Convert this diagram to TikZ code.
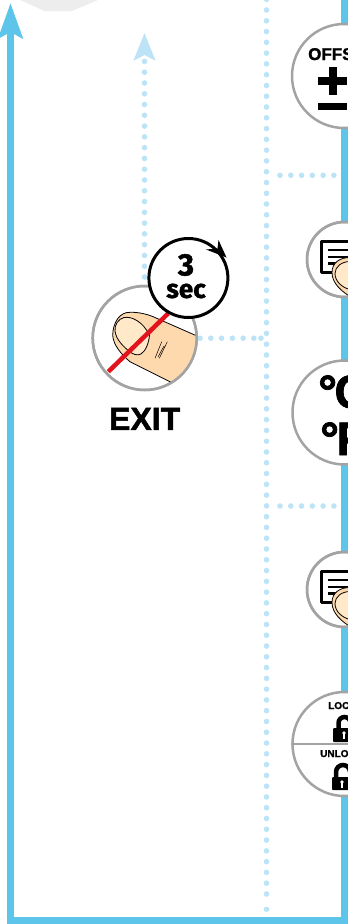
\documentclass[tikz,border=0pt]{standalone}
\usepackage{fontspec}
\setmainfont{Liberation Sans}[BoldFeatures={FakeBold=1.6}]
\newfontfamily\timerfont{Fira Sans}[BoldFeatures={FakeBold=1.6}]
\usetikzlibrary{arrows.meta,positioning}
\definecolor{bar}{HTML}{5EC5EA}
\definecolor{dotblue}{HTML}{BDE3F6}
\definecolor{ringgray}{HTML}{A3A3A3}
\definecolor{skin}{HTML}{FFD9AE}
\definecolor{nailskin}{HTML}{FFE9C9}
\definecolor{crossred}{HTML}{E2131C}
\tikzset{
  frameline/.style={draw=bar,line width=7.5pt,line join=miter},
  dots/.style={draw=dotblue,line width=5.6pt,line cap=round,dash pattern=on 0pt off 10.78pt},
  ring/.style={circle,draw=ringgray,line width=2.5pt,fill=white,inner sep=0pt,minimum size=104pt},
  smallring/.style={ring,minimum size=75pt},
  lab/.style={font=\bfseries\fontsize{#1}{#1}\selectfont,inner sep=0pt,anchor=base west},
  fingerline/.style={draw=black,line width=0.8pt},
}
\begin{document}
\begin{tikzpicture}[x=1pt,y=-1pt]
  \useasboundingbox (0,0) rectangle (348,924);
  \clip (0,0) rectangle (348,924);
  % grey corner at the top
  \fill[gray!14] (20,0) -- (38,8) -- (44,11) -- (72,11) -- (98,0) -- cycle;
  % coordinates of the free ends
  \coordinate (topleft) at (10.5,3);
  \coordinate (botleft) at (10.5,920.5);
  \coordinate (botright) at (344.5,920.5);
  \coordinate (topright) at (344.5,-5);
  \coordinate (vtop) at (266.5,-0.78);
  \coordinate (vbot) at (266.5,894.5);
  \coordinate (vlast) at (266.5,909.3);
  \coordinate (exitup) at (144.5,33);
  \coordinate (exitfoot) at (144.5,277);
  \coordinate (juncA) at (280,175.3);
  \coordinate (endA) at (336,175.3);
  \coordinate (juncB) at (280,506);
  \coordinate (endB) at (336,506);
  \coordinate (exitout) at (200,338.2);
  \coordinate (juncC) at (255,338.2);
  \coordinate (juncD) at (261,338.2);
  % blue frame
  \draw[frameline,{Stealth[length=35pt,width=24pt,inset=6pt]}-] (topleft) -- (botleft) -- (botright) -- (topright);
  % dotted lines
  \draw[dots] (vtop) -- (vbot);
  \fill[dotblue] (vlast) ellipse (3 and 2.6);
  \fill[dotblue] (juncD) circle (2.8);
  \draw[dots,-{Stealth[length=27pt,width=21pt,inset=5pt]}] (exitfoot) -- (exitup);
  \draw[dots] (juncA) -- (endA);
  \draw[dots] (juncB) -- (endB);
  \draw[dots] (exitout) -- (juncC);
  % rings on the right
  \node[ring] (offs) at (344,76) {};
  \node[ring] (temp) at (344.5,412.5) {};
  \node[ring] (lock) at (344.5,744) {};
  % offset
  \node[lab=17] (offstext) at (308,60) {OFFSET};
  \fill (318,77) rectangle (347,85);
  \fill (328.5,67) rectangle (336.5,95);
  \fill (318,103) rectangle (347,110);
  % units
  \node[lab=47] (cel) at (318,408) {°\kern-2.5pt C};
  \node[lab=47] (fah) at (320,455) {°\kern-2.5pt F};
  % lock and unlock
  \draw[ringgray,line width=2.5pt] (lock.west) -- (lock.east);
  \node[lab=10] (locktext) at (328,709) {LOCK};
  \node[lab=10] (unlocktext) at (320,757) {UNLOCK};
  \draw[line width=4.5pt] (338.5,729) -- (338.5,723) arc[start angle=180,end angle=360,radius=6];
  \fill[rounded corners=1pt] (333,728) rectangle (357,742);
  \fill[white] (344,733) circle (1.9);
  \fill[white] (343.1,733) rectangle (344.9,739);
  \draw[line width=4.5pt] (336,777) -- (336,772) arc[start angle=180,end angle=360,radius=7];
  \fill[rounded corners=1pt] (332,777) rectangle (356,790);
  \fill[white] (342,782) circle (1.9);
  \fill[white] (341.1,782) rectangle (342.9,788);
  % the two finger-on-menu buttons
  \foreach \nm/\yy in {docA/259.5,docB/589.5} {
    \node[smallring] (\nm) at (344.5,\yy) {};
    \begin{scope}[shift={(0,\yy)}]
      \draw[line width=3.5pt,line join=round] (360,-18) -- (321.5,-18) -- (321.5,13) -- (360,13);
      \draw[line width=2.8pt] (328,-9.5) -- (350,-9.5) (328,-2.5) -- (350,-2.5) (328,4) -- (350,4);
      \filldraw[fingerline,fill=skin] (350,37) .. controls (342,32) and (332,24) .. (332,13)
        .. controls (332,3) and (340,-2) .. (350,-2) -- cycle;
      \filldraw[fingerline,fill=nailskin] (350,2) .. controls (342,2) and (335,7) .. (335,14)
        .. controls (335,22) and (342,28) .. (350,30) -- cycle;
    \end{scope}
    \draw[ringgray,line width=2.5pt] (\nm) circle (37.5);
  }
  % exit button
  \node[ring] (exit) at (144.7,338) {};
  \begin{scope}
    \clip (exit) circle (51);
    \filldraw[fingerline,fill=skin] (197,336) -- (156.7,318.3)
      .. controls (148,314) and (138,312) .. (130,312.3)
      .. controls (120,312) and (113,322) .. (112.7,335)
      .. controls (113,345) and (122,355) .. (130,361.7) -- (170,381.7) -- (200,395) -- cycle;
  \end{scope}
  \filldraw[fingerline,fill=nailskin] (124,317.5) .. controls (132,316) and (143,322) .. (149.5,335)
    .. controls (149,342) and (146,351) .. (141,354) .. controls (137,356) and (133,354) .. (130,352)
    .. controls (124,347) and (116,340) .. (115,331) .. controls (114.5,325) and (118,319) .. (124,317.5) -- cycle;
  \draw[line width=0.5pt] (161.7,341.7) -- (155,358.3) (167.3,341.7) -- (159.3,358.3) (164,346) -- (158,357);
  \draw[ringgray,line width=2.5pt] (exit) circle (52);
  \draw[crossred,line width=4.5pt] (108.3,371.7) -- (168.3,313.3);
  % timer
  \node[circle,draw=black,line width=3pt,fill=white,inner sep=0pt,minimum size=79pt] (timer) at (188.4,278) {};
  \fill (226.5,257.5) -- (218.5,240) -- (217.5,248.5) -- (206,249.5) -- cycle;
  \node[font=\timerfont\bfseries\fontsize{31}{31}\selectfont,inner sep=0pt] (three) at (186,265) {3};
  \node[font=\timerfont\bfseries\fontsize{26}{26}\selectfont,inner sep=0pt] (sec) at (186,291) {sec};
  % label
  \node[font=\bfseries\fontsize{32}{32}\selectfont,inner sep=0pt,below=16.5pt of exit] (exitlab) {EXIT};
\end{tikzpicture}
\end{document}
